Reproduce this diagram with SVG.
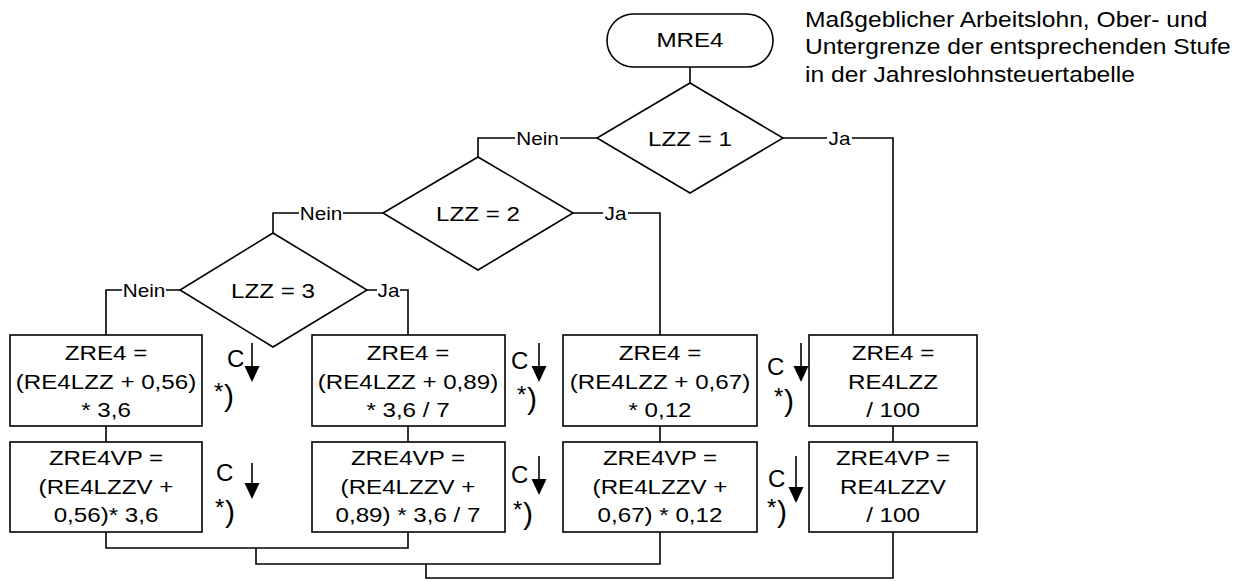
<svg xmlns="http://www.w3.org/2000/svg" width="1247" height="581" viewBox="0 0 1247 581">
<style>
.s{fill:none;stroke:#000;stroke-width:1.6}
.b{fill:#fff;stroke:#000;stroke-width:1.6}
text{font-family:"Liberation Sans",Arial,sans-serif;fill:#000}
.t,.l{text-anchor:middle;transform-box:fill-box;transform-origin:center;transform:scaleX(1.15)}
.t{font-size:21px}
.l{font-size:18px}
.c{font-size:24px}
.a{font-size:24px}
.p{font-size:30px}
.n{font-size:22px;transform-box:fill-box;transform-origin:left center;transform:scaleX(1.12)}
</style>
<defs>
<marker id="ah" markerUnits="userSpaceOnUse" markerWidth="16" markerHeight="16" refX="0" refY="8" orient="auto" viewBox="0 0 16 16">
<path d="M0,0.5 L16,8 L0,15.5 Z" fill="#000"/>
</marker>
</defs>
<g id="connectors">
<path class="s" d="M690,67 V83"/>
<path class="s" d="M597,138 H560 M515,138 H478 V157"/>
<path class="s" d="M783,138 H827 M852,138 H893 V335"/>
<path class="s" d="M383,213 H343 M299,213 H273 V233"/>
<path class="s" d="M573,213 H603 M628,213 H660 V335"/>
<path class="s" d="M180,290 H166 M122,290 H106 V335"/>
<path class="s" d="M367,290 H377 M400,290 H408 V335"/>
<path class="s" d="M106,426 V442 M408,426 V442 M660,426 V442 M893,426 V442"/>
<path class="s" d="M106,532 V548 H408 V532"/>
<path class="s" d="M256,548 V564 H660 V532"/>
<path class="s" d="M426,564 V578 H893 V532"/>
</g>
<g id="start">
<rect class="b" x="607" y="14" width="166" height="53" rx="26.5"/>
<text class="t" x="690" y="47">MRE4</text>
</g>
<g id="note">
<text class="n" x="805" y="27">Maßgeblicher Arbeitslohn, Ober- und</text>
<text class="n" x="805" y="54.5">Untergrenze der entsprechenden Stufe</text>
<text class="n" x="805" y="82">in der Jahreslohnsteuertabelle</text>
</g>
<g id="d1">
<path class="b" d="M690,83 L783,138 L690,193 L597,138 Z"/>
<text class="t" x="690" y="146">LZZ = 1</text>
<text class="l" x="537.5" y="145">Nein</text>
<text class="l" x="839.5" y="145">Ja</text>
</g>
<g id="d2">
<path class="b" d="M478,157 L573,213 L478,270 L383,213 Z"/>
<text class="t" x="478" y="221">LZZ = 2</text>
<text class="l" x="321" y="220">Nein</text>
<text class="l" x="615.5" y="220">Ja</text>
</g>
<g id="d3">
<path class="b" d="M273,233 L367,290 L273,347 L180,290 Z"/>
<text class="t" x="273" y="298">LZZ = 3</text>
<text class="l" x="144" y="297">Nein</text>
<text class="l" x="388.5" y="297">Ja</text>
</g>
<g id="box1">
<rect class="b" x="10" y="335" width="192" height="91"/>
<text class="t" x="106" y="360">ZRE4 =</text>
<text class="t" x="106" y="389">(RE4LZZ + 0,56)</text>
<text class="t" x="106" y="417">* 3,6</text>
</g>
<g id="box1b">
<rect class="b" x="10" y="442" width="192" height="90"/>
<text class="t" x="106" y="465">ZRE4VP =</text>
<text class="t" x="106" y="494">(RE4LZZV +</text>
<text class="t" x="106" y="522">0,56)* 3,6</text>
</g>
<g id="box2">
<rect class="b" x="312" y="335" width="193" height="91"/>
<text class="t" x="408" y="360">ZRE4 =</text>
<text class="t" x="408" y="389">(RE4LZZ + 0,89)</text>
<text class="t" x="408" y="417">* 3,6 / 7</text>
</g>
<g id="box2b">
<rect class="b" x="312" y="442" width="193" height="90"/>
<text class="t" x="408" y="465">ZRE4VP =</text>
<text class="t" x="408" y="494">(RE4LZZV +</text>
<text class="t" x="408" y="522">0,89) * 3,6 / 7</text>
</g>
<g id="box3">
<rect class="b" x="563" y="335" width="194" height="91"/>
<text class="t" x="660" y="360">ZRE4 =</text>
<text class="t" x="660" y="389">(RE4LZZ + 0,67)</text>
<text class="t" x="660" y="417">* 0,12</text>
</g>
<g id="box3b">
<rect class="b" x="563" y="442" width="194" height="90"/>
<text class="t" x="660" y="465">ZRE4VP =</text>
<text class="t" x="660" y="494">(RE4LZZV +</text>
<text class="t" x="660" y="522">0,67) * 0,12</text>
</g>
<g id="box4">
<rect class="b" x="809" y="335" width="168" height="91"/>
<text class="t" x="893" y="360">ZRE4 =</text>
<text class="t" x="893" y="389">RE4LZZ</text>
<text class="t" x="893" y="417">/ 100</text>
</g>
<g id="box4b">
<rect class="b" x="809" y="442" width="168" height="90"/>
<text class="t" x="893" y="465">ZRE4VP =</text>
<text class="t" x="893" y="494">RE4LZZV</text>
<text class="t" x="893" y="522">/ 100</text>
</g>
<g id="notes-c">
<text class="c" x="227" y="367">C</text>
<path class="s" d="M252,343 V366" marker-end="url(#ah)"/>
<text class="a" x="214" y="400">*</text><text class="p" x="224" y="406">)</text>
<text class="c" x="216" y="481">C</text>
<path class="s" d="M252,463 V483" marker-end="url(#ah)"/>
<text class="a" x="215" y="516">*</text><text class="p" x="225" y="522">)</text>
<text class="c" x="511" y="369">C</text>
<path class="s" d="M539,343 V366" marker-end="url(#ah)"/>
<text class="a" x="517" y="403">*</text><text class="p" x="527" y="409">)</text>
<text class="c" x="511" y="483">C</text>
<path class="s" d="M539,456 V479" marker-end="url(#ah)"/>
<text class="a" x="513" y="518">*</text><text class="p" x="523" y="524">)</text>
<text class="c" x="767" y="375">C</text>
<path class="s" d="M801,343 V366" marker-end="url(#ah)"/>
<text class="a" x="774" y="405">*</text><text class="p" x="784" y="411">)</text>
<text class="c" x="768" y="487">C</text>
<path class="s" d="M796,456 V487" marker-end="url(#ah)"/>
<text class="a" x="767" y="516">*</text><text class="p" x="777" y="522">)</text>
</g>
</svg>
